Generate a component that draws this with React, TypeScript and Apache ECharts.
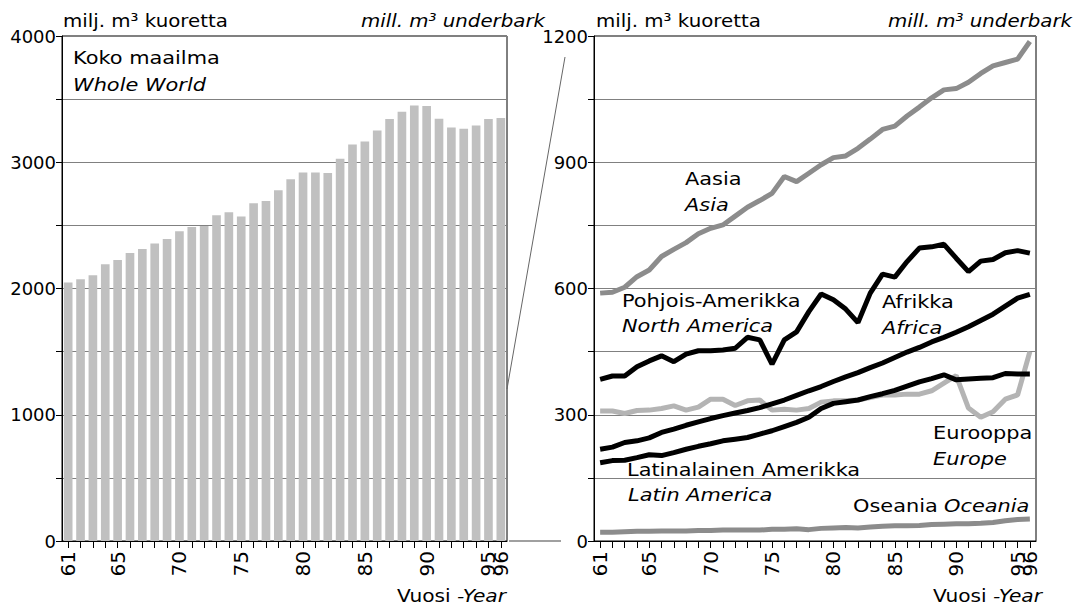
import React, { useEffect, useRef } from "react";
import * as echarts from "echarts";

const years = ["61","62","63","64","65","66","67","68","69","70","71","72","73","74","75","76","77","78","79","80","81","82","83","84","85","86","87","88","89","90","91","92","93","94","95","96"];
const shownYears = ["61","65","70","75","80","85","90","95","96"];

const worldTotal = [2047,2073,2105,2193,2226,2282,2313,2356,2393,2454,2488,2496,2581,2604,2570,2676,2694,2779,2866,2919,2919,2914,3027,3141,3165,3252,3342,3400,3450,3445,3344,3276,3265,3292,3342,3350];

const asia = [589,591,603,628,644,676,693,709,730,743,751,772,793,809,826,866,854,874,894,911,915,933,955,978,986,1010,1031,1053,1072,1075,1090,1111,1129,1137,1145,1187];
const northAmerica = [384,392,392,414,428,440,426,444,452,452,454,458,484,478,420,478,497,545,587,573,551,519,589,634,627,664,696,699,705,672,640,665,669,685,690,684];
const africa = [218,223,234,238,245,258,266,275,283,291,298,304,310,317,326,335,346,357,367,379,390,400,412,423,436,449,460,473,484,496,509,524,539,558,577,586];
const latinAmerica = [186,191,192,198,205,203,210,218,225,231,238,242,246,254,262,272,282,294,315,327,331,335,343,350,358,368,378,386,395,383,385,387,388,398,397,397];
const europe = [309,309,303,310,311,315,321,311,318,337,337,322,333,335,311,313,311,315,330,333,333,335,341,347,347,349,349,357,375,393,316,294,307,337,347,450];
const oceania = [21,21,22,23,23,24,24,24,25,25,26,26,26,26,28,28,29,27,30,31,32,31,33,35,36,36,37,39,40,41,41,42,44,48,51,52];

const leftAxisLabels = [0, 1000, 2000, 3000, 4000];
const rightAxisLabels = [0, 300, 600, 900, 1200];

const FONT = "DejaVu Sans";
const FS = 18;
const SX = 1.16;

function txt(x: number, y: number, text: string, italic = false, align = "left", sx = SX) {
  return {
    type: "text",
    x,
    y,
    scaleX: sx,
    style: {
      text,
      fill: "#000",
      font: `${italic ? "italic " : ""}${FS}px "${FONT}"`,
      textAlign: align,
      textVerticalAlign: "middle",
    },
  };
}

function yearText(x: number, y: number) {
  return {
    type: "text",
    x,
    y,
    scaleX: 1.12,
    style: {
      text: "{a|Vuosi }{b|-Year}",
      textAlign: "right",
      textVerticalAlign: "middle",
      rich: {
        a: { fontFamily: FONT, fontSize: FS, fill: "#000" },
        b: { fontFamily: FONT, fontSize: FS, fontStyle: "italic", fill: "#000" },
      },
    },
  };
}

export default function App() {
  const ref = useRef<HTMLDivElement>(null);
  useEffect(() => {
    if (!ref.current) return;
    const chart = echarts.init(ref.current, undefined, { renderer: "svg" });
    const xAxisCommon = {
      type: "category",
      data: years,
      boundaryGap: true,
      axisLine: { lineStyle: { color: "#000", width: 1 } },
      axisTick: {
        show: true,
        alignWithLabel: true,
        interval: 0,
        length: 7,
        lineStyle: { color: "#000" },
      },
      axisLabel: {
        rotate: 90,
        margin: 10,
        interval: 0,
        hideOverlap: false,
        formatter: (v: string) => (shownYears.includes(v) ? v : ""),
        color: "#000",
        fontFamily: FONT,
        fontSize: 20,
      },
    };
    const yAxisCommon = {
      type: "value",
      min: 0,
      axisLine: { show: true, lineStyle: { color: "#000" } },
      axisTick: { show: true, length: 6, lineStyle: { color: "#000" } },
      splitLine: { show: true, lineStyle: { color: "#808080", width: 1 } },
      axisLabel: { color: "#000", fontFamily: FONT, fontSize: FS, margin: 6 },
    };
    const lineSeries = (name: string, data: number[], color: string) => ({
      type: "line",
      name,
      xAxisIndex: 1,
      yAxisIndex: 1,
      data,
      symbol: "none",
      lineStyle: { color, width: 5 },
    });
    chart.setOption({
      animation: false,
      backgroundColor: "#fff",
      grid: [
        { left: 62, top: 36, width: 445, height: 505, show: true, borderColor: "#000", borderWidth: 1, backgroundColor: "transparent" },
        { left: 594, top: 36, width: 442, height: 505, show: true, borderColor: "#000", borderWidth: 1, backgroundColor: "transparent" },
      ],
      xAxis: [
        { ...xAxisCommon, gridIndex: 0 },
        { ...xAxisCommon, gridIndex: 1 },
      ],
      yAxis: [
        {
          ...yAxisCommon,
          gridIndex: 0,
          max: 4000,
          interval: 500,
          axisLabel: {
            ...yAxisCommon.axisLabel,
            formatter: (v: number) => (leftAxisLabels.includes(v) ? String(v) : ""),
          },
        },
        {
          ...yAxisCommon,
          gridIndex: 1,
          max: 1200,
          interval: 150,
          axisLabel: {
            ...yAxisCommon.axisLabel,
            formatter: (v: number) => (rightAxisLabels.includes(v) ? String(v) : ""),
          },
        },
      ],
      series: [
        {
          type: "bar",
          name: "Koko maailma",
          xAxisIndex: 0,
          yAxisIndex: 0,
          data: worldTotal,
          barCategoryGap: "30%",
          itemStyle: { color: "#c0c0c0" },
        },
        lineSeries("Oseania", oceania, "#8c8c8c"),
        lineSeries("Eurooppa", europe, "#b4b4b4"),
        lineSeries("Latinalainen Amerikka", latinAmerica, "#000"),
        lineSeries("Afrikka", africa, "#000"),
        lineSeries("Pohjois-Amerikka", northAmerica, "#000"),
        lineSeries("Aasia", asia, "#8c8c8c"),
      ],
      graphic: [
        { type: "line", shape: { x1: 507, y1: 389, x2: 565, y2: 57 }, style: { stroke: "#666", lineWidth: 1 } },
        { type: "line", shape: { x1: 509, y1: 541, x2: 561, y2: 541 }, style: { stroke: "#a0a0a0", lineWidth: 2 } },
        txt(63, 20, "milj. m³ kuoretta", false, "left", 1.1),
        txt(545, 20, "mill. m³ underbark", true, "right", 1.1),
        txt(596, 20, "milj. m³ kuoretta", false, "left", 1.1),
        txt(1072, 20, "mill. m³ underbark", true, "right", 1.1),
        txt(73, 58, "Koko maailma"),
        txt(73, 85, "Whole World", true),
        txt(685, 179, "Aasia"),
        txt(685, 205, "Asia", true),
        txt(622, 301, "Pohjois-Amerikka"),
        txt(622, 326, "North America", true),
        txt(882, 302, "Afrikka"),
        txt(882, 328, "Africa", true),
        txt(933, 433, "Eurooppa"),
        txt(933, 459, "Europe", true),
        txt(627, 470, "Latinalainen Amerikka"),
        txt(628, 495, "Latin America", true),
        txt(853, 506, "Oseania"),
        txt(944, 506, "Oceania", true),
        yearText(506, 596),
        yearText(1042, 596),
      ],
    });
    return () => chart.dispose();
  }, []);
  return (
    <div
      ref={ref}
      style={{ position: "absolute", left: 0, top: 0, width: 1076, height: 608, background: "#fff" }}
    />
  );
}
